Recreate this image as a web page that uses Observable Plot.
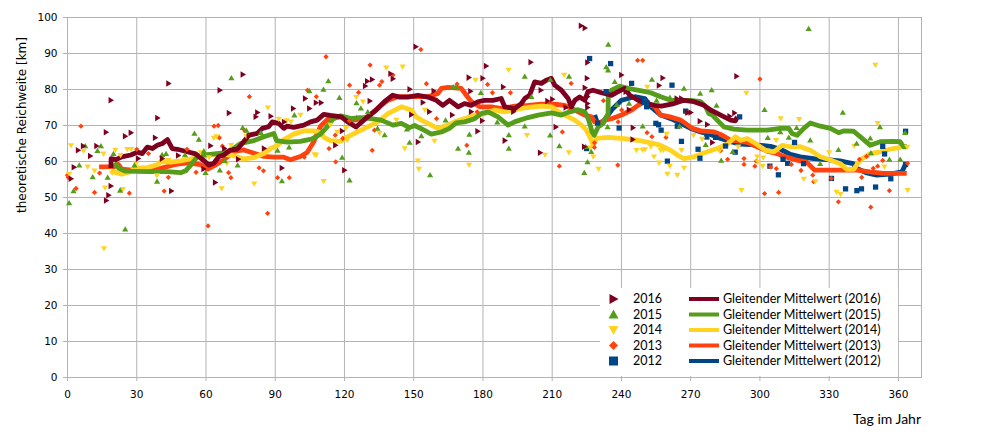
<!DOCTYPE html>
<html><head><meta charset="utf-8">
<script src="https://cdn.jsdelivr.net/npm/d3@7"></script>
<script src="https://cdn.jsdelivr.net/npm/@observablehq/plot@0.6"></script>
<style>
body{margin:0;background:#fff;}
#wrap{position:relative;width:997px;height:435px;overflow:hidden;}
#ytitle{position:absolute;left:22px;top:125px;transform:translate(-50%,-50%) rotate(-90deg);font:12px "DejaVu Sans";white-space:nowrap;color:#000;}
#xtitle{position:absolute;right:76px;top:412px;font:14px Lato;line-height:14px;color:#000;}
#legend{position:absolute;left:600px;top:288px;width:298px;height:88px;background:#fff;}
#legend .lab{position:absolute;font:12.5px Lato;line-height:14px;white-space:nowrap;color:#000;}
</style></head><body>
<div id="wrap"><div id="chart"></div><div id="ytitle">theoretische Reichweite [km]</div><div id="xtitle">Tag im Jahr</div><div id="legend"></div></div>
<script>
const years = ["2016","2015","2014","2013","2012"];
const colors = ["#7e0021","#579d1c","#ffd320","#ff420e","#004586"];
const xTicks = [0,30,60,90,120,150,180,210,240,270,300,330,360];
const yTicks = [0,10,20,30,40,50,60,70,80,90,100];

const pts2016 = [[1.5,55.2],[2.8,58.4],[4.6,63.1],[6.8,64.3],[9.9,61.5],[12.6,64.3],[16.7,68.1],[16.8,49.2],[17.8,50.6],[18.8,53.2],[18.8,77.0],[25,67],[27.5,68],[30.6,60.8],[38,66.6],[39,72.1],[41,60.8],[43.8,81.7],[45,51.8],[48,61.7],[59,57.9],[62,64.4],[64,54.2],[66,79.8],[68,63.6],[70,73.5],[74,60.6],[76,84.2],[78.6,67],[81.6,72.4],[82.3,73.6],[85.2,63.6],[88.1,72.6],[92.9,58.2],[93.9,71],[97.8,74.7],[103,77.5],[104.8,74.7],[107.7,76.3],[109.9,76.3],[116.1,64.5],[119,68.5],[120,57.6],[129,81.0],[129.9,82.3],[131,76.8],[132,82.8],[140,84.4],[141,83.0],[148.3,80.1],[149,73.0],[150.9,91.9],[151.9,65.4],[154,76.4],[156.8,73.8],[158.7,79.6],[166.7,72.9],[173.9,83.3],[174.6,79.5],[174.9,73.8],[177.7,68.4],[179.7,71.3],[179.9,83.1],[181.4,86.5],[188.8,80.7],[189.5,65.8],[193.2,73.8],[200.7,87.6],[204.8,62.4],[205.1,79.8],[208,76.8],[210.1,77.3],[211.6,69.6],[215.9,75.0],[222.5,97.7],[224.2,97.1],[223.9,64.1],[224.2,80.5],[225.1,83.1],[225.3,87.5],[225.3,78],[225.3,76.1],[225.3,75],[236.8,78.6],[240,84.0],[241.9,79.4],[243.3,74.4],[244.9,66.1],[245,69.4],[256.3,81.1],[257.9,83.2],[264,77.5],[266,77.5],[268.6,73.6],[270,73.6],[274,71.2],[277.2,70.3],[279.4,65.3],[286.9,72.6],[289,73.5],[289.9,83.7]];

const pts2015 = [[0.7,48.5],[2.6,51.8],[5.1,59.0],[7.7,64.3],[10.9,55.7],[13,63.0],[14.5,64.3],[17.4,55.6],[19.9,62.2],[22.8,52.0],[25,41.2],[29,59.0],[38.8,54.5],[41,61.9],[42.7,62.2],[50.9,61.8],[55,67.8],[56.9,66.1],[59.1,62.9],[59.8,56.9],[66,57.6],[68.1,60.2],[71,83.2],[73.7,59.0],[75.9,69.4],[77.5,68.6],[83.8,68],[91,63.1],[92.9,54.6],[96,64.0],[98.3,72.9],[104.8,79.6],[110.9,80],[113,82.4],[117.8,77.7],[119,61.1],[122.2,54.8],[125.2,76.3],[125.3,72.2],[127.1,74.8],[130.1,73.8],[134.3,69.2],[137.4,67.4],[147.1,69.0],[148.2,65.3],[153.3,67.1],[157.1,56.3],[163.8,71.5],[167.1,80.7],[168.4,80.8],[169.2,63.6],[173.9,62.5],[174.1,67.5],[179.1,79.1],[186.2,70.9],[191.2,63.6],[191.2,67.4],[198.1,83.6],[198.1,69.8],[201,78.0],[209.2,82.7],[209.1,67.3],[213.1,64.3],[217.3,83.6],[223.9,56.9],[224.5,64.1],[225.3,59.9],[226.9,62.7],[233.4,86.3],[234.2,85.4],[234.3,92.5],[234.0,69.6],[237.1,82.2],[238,75.8],[242.6,80.3],[243.3,76.1],[249.2,69.8],[253.2,82.8],[255.2,77.0],[261,77.8],[265.2,69.8],[267.1,80.3],[274.1,78.9],[276.5,64.7],[279.1,79.9],[281.2,75.6],[283.2,60.3],[288.2,62.7],[302,74.4],[303.4,66.6],[308.8,68.2],[312.5,66.7],[315.9,69.4],[321.1,96.9],[321.8,65.9],[326.1,59.4],[334,63.3],[335.9,73.6],[341.9,65.0],[347.8,66.5],[348.1,62.4],[352,69.6],[356.1,60.6],[360.8,60.6],[362.9,68.0]];

const pts2014 = [[0.7,56.5],[1.5,64.4],[7,62.9],[8.7,58.5],[11.7,57.4],[15.6,62.1],[15.8,35.8],[16.3,52.7],[20.7,63.2],[23,61.7],[23.9,52.3],[25.9,63.4],[27.6,63.4],[29.7,59.4],[38.7,56.1],[43.7,60.3],[57.7,62.5],[61.3,61.1],[63.4,66.5],[64.6,66.9],[66.8,52.5],[69,59.4],[70.9,64.5],[77.5,67.0],[80.9,53.8],[86.8,74.9],[91.5,71.8],[94.9,71.4],[96.8,71],[100.9,72.9],[107,61.9],[107.7,61.8],[111,54.5],[113.9,70.1],[116.9,68.2],[120.7,69.2],[121.2,65.9],[125.1,77.8],[128,76.6],[135.2,67.8],[138.1,86.0],[142.5,71.5],[145.2,86.3],[146.1,63.6],[151.8,60.2],[152.2,57.9],[154.9,74.3],[159,65.7],[174,59],[176.8,82.6],[191.1,85.4],[199.1,67.3],[206.9,61.8],[215.2,84],[217.2,62.5],[226.4,63.8],[227.8,61.3],[230.1,57.9],[246.5,63.1],[249.1,63.2],[250.2,63.3],[251.2,80.7],[252.7,64.1],[254.1,61.3],[256.3,59.6],[257,63.1],[258.2,63.1],[259.9,56.5],[259.6,67.6],[261,58.7],[264.2,56.2],[266,63.1],[267.1,58.2],[271.2,67.3],[275,66.2],[282.5,63.0],[290.6,64.1],[292,52.0],[294.1,79.0],[298.8,61.3],[299.1,59.9],[301.2,58.7],[301.4,61.0],[307,65.9],[309,71.9],[317,71.7],[319,55.1],[324,54.4],[330,62.5],[333.2,51.5],[334.9,50.9],[340.8,64.3],[350,86.8],[351,70.6],[353.9,58.5],[363.8,64.0],[364,52.0]];

const pts2013 = [[0,56.2],[0.3,55.6],[3.7,52.5],[5.8,69.8],[11.7,51.4],[13.9,56.8],[26.8,51.2],[30,63.4],[35.1,62.2],[41.9,51.8],[43.7,55.6],[51.8,63.4],[55.7,57.0],[60.9,42.1],[63.5,69.8],[65.3,70],[65.8,66.6],[67.1,64.3],[69.8,56.9],[70.8,55.5],[76.8,68.6],[78.8,78],[83,58.2],[84.9,57.4],[86.7,45.6],[91,55.5],[96.1,55.5],[102.6,61.2],[104,79.8],[107.8,78],[112,89.1],[113.3,63.6],[116.2,59.9],[116,67.3],[119.3,66.4],[122.2,81.2],[122.2,71.3],[126.1,79.2],[131.1,86.8],[132,63.1],[133,68.7],[135.2,81.2],[136.2,82.2],[141,84],[153.1,91.1],[155.5,81.6],[159.9,71.9],[168.8,81.5],[173,64.5],[177.5,73.8],[182,81.4],[184.1,79.1],[191.9,79.1],[213.1,58.7],[214.4,68.2],[218.2,81.7],[228.3,65.2],[228.3,63.9],[232.2,76.9],[238.4,59.0],[240.1,74.3],[238.6,71],[247,88.1],[249.2,88.1],[251.1,68],[253.2,66.9],[259.3,66.7],[268.4,73.5],[283,63],[286,60.6],[293.1,60.8],[293.1,59.2],[298.4,60.1],[297.8,58.7],[300,82.9],[302,51.1],[304.6,58.5],[307.1,58.0],[308.1,51.4],[313.6,59.2],[317.8,57.5],[322.9,56.2],[323.3,54.4],[330.9,55.3],[334,48.8],[343.1,60.6],[344.1,55.6],[346.2,61.4],[348,47.3],[349.1,58.1],[351,58.7],[353.2,60.3],[356.1,51.9],[364,59.5]];

const pts2012 = [[224.9,63.6],[226.2,88.6],[233.4,79.4],[229.7,70.7],[235.3,87.2],[239,69.3],[244.4,81.7],[249.8,76.4],[251,76.3],[250.9,75.2],[254.9,70.6],[256.1,70.2],[257.2,68.7],[259.9,60.1],[261.9,81.2],[264.2,69.8],[266,65.6],[267.8,74.0],[273.2,63.4],[274,60.9],[277,66.8],[280.8,66.7],[285.1,64.3],[289.3,62.6],[291.2,72.4],[304.3,58.7],[308,56.3],[310,60.6],[312,59.5],[315,65.3],[318.9,59.4],[331,55.3],[337.1,52.4],[342,51.9],[344,52.4],[350.1,52.9],[353.2,64.2],[354,62.1],[356.7,55.2],[363.1,68.4],[363.1,59.2]];

const ma2016 = [[18.8,58.2],[18.9,60.8],[21,60.5],[23.5,61.3],[27.4,61.8],[30.3,62.6],[32.4,62.2],[34.6,64.0],[36.8,63.6],[38.9,64.5],[41.1,65.0],[43.3,66.1],[45.4,63.6],[47.6,63.4],[51.9,62.7],[55.5,62.1],[58.4,60.6],[61.3,59.0],[63.4,59.5],[65.6,61.4],[67.7,61.8],[70.6,63.2],[73.5,63.4],[75.7,65.0],[78.6,67.3],[82.2,67.8],[84.4,69.2],[87.2,69.7],[88.7,71.0],[91.5,70.6],[93.7,69.2],[95.1,69.8],[98,69.5],[102.4,70.1],[105.3,71.0],[108.2,71.5],[111,73.1],[113.9,72.8],[118.6,72.4],[121.4,71.0],[125,69.6],[130,72.4],[133.7,74.3],[137.3,76.6],[140.9,78.4],[143.9,77.9],[147.5,77.9],[151.8,78.4],[156.1,77.9],[159.8,77.0],[162.6,75.6],[165.5,77.0],[169.2,75.2],[172,76.1],[174.9,75.6],[177.8,76.6],[180.7,77.0],[184.3,77.0],[187.9,77.5],[189.4,75.2],[193.8,74.7],[196.6,76.1],[198.1,77.5],[200.2,78.4],[202.4,82.1],[205.3,81.7],[207.5,82.6],[209.6,83.1],[211.1,81.2],[214,79.8],[216.9,77.5],[218.3,75.2],[219.8,77.0],[221.9,77.9],[224.1,77.0],[225.5,79.4],[227.7,79.8],[231.3,79.1],[235.7,78.4],[238.6,79.4],[241.4,80.3],[243.6,78.4],[247.2,77.0],[250.8,76.1],[254.5,75.6],[257.3,75.4],[262.8,76.1],[267.1,77.0],[271.4,76.6],[275.8,75.6],[278.6,74.3],[283,72.9],[287.3,71.5],[289.4,71.3],[290.2,72.4]];

const ma2015 = [[20.2,59.6],[22.3,58.1],[25.2,57.3],[36,57.2],[43.3,57.2],[49,56.9],[51.2,57.4],[53.4,59.0],[56.3,61.4],[60.7,61.9],[66.5,62.3],[70.6,63.0],[75,65.0],[80.8,65.8],[85.1,66.9],[89.4,67.8],[90.6,65.8],[95.2,65.4],[100.9,65.6],[106,66.3],[109.6,67.6],[112.5,69.6],[115,71.8],[118.4,72.7],[122.9,71.9],[126.5,72.2],[131.6,71.9],[135.9,71.5],[141,70.1],[144.6,70.6],[148.2,69.4],[150.4,70.0],[154.5,68.7],[157.6,67.6],[162,68.2],[165.5,69.2],[168.4,70.7],[172.1,71],[176.4,71.9],[179.3,73.3],[182.2,73.8],[186.5,72.4],[190.9,70.1],[193.7,71],[199.5,72.2],[203.9,72.9],[209.7,73.5],[214,72.9],[217.6,73.8],[221.2,74.4],[224.1,73.8],[225.6,71.9],[227.3,68.2],[228.2,67.3],[229.9,69.6],[232.1,70.6],[234.2,73.3],[234.3,78.4],[235.7,79.8],[239.3,80.9],[242.9,80.3],[248.7,79.6],[252.7,79.1],[257,78],[261.4,77],[270,77],[274.3,76.6],[276.5,75.2],[277.9,73.3],[279.4,72.9],[281.5,71.5],[284.4,69.6],[288.7,69],[294.5,68.7],[303.1,68.7],[308.9,69.2],[312.5,69.2],[313.9,67.8],[316.1,67.3],[319,69.2],[321.8,70.7],[326.2,69.8],[330.5,69.2],[334.1,68],[336.2,68.5],[340.6,68.4],[343.4,66.9],[347.8,64.5],[352.1,65.5],[357.8,65.6],[360.7,65.5],[362.2,64.1],[363.6,64.1]];

const ma2014 = [[18.7,56.6],[19.7,57.2],[23.5,56.5],[26.5,57],[29.8,58.2],[34.6,58.3],[38.9,59.1],[40.4,60],[44.8,59.8],[49,60.2],[54.8,60.9],[59.2,61.8],[63.4,62],[67.8,62],[72.1,61.6],[76.4,60.7],[80.8,61.1],[85.1,62.2],[88,63.6],[90.9,64.4],[93.7,66.1],[98,67.6],[102.4,68.5],[106.7,68.5],[109.6,68.1],[111.1,66.7],[113.9,65.8],[118.3,65.6],[120,66.4],[124.3,67.8],[128.7,69.2],[134.5,71],[138.8,73.3],[144.6,75.2],[149,74.3],[151.1,72.4],[153.3,71.5],[157.6,70.1],[160.5,69.2],[164.8,70.1],[167.7,71],[172.1,71.9],[176.4,72.9],[180.7,73.3],[185.1,74.3],[189.4,73.8],[193.7,74.4],[199.5,75],[205.3,75.4],[209.7,75.2],[214,73.3],[217,72.4],[219.8,71.5],[222.7,70.1],[224.8,68.7],[227,65.9],[227.7,64.5],[229.2,66.4],[234.2,66.7],[240,66.4],[247.2,65.9],[252.7,65.2],[257,64.5],[261.4,63.1],[264.2,61.8],[267.1,60.8],[271.4,61.3],[277.2,62.7],[281.5,63.6],[285.8,64.8],[289.4,66.9],[291.6,65.9],[294.5,66.4],[298.1,65],[302.4,63.1],[306,62.7],[309.6,64.5],[313.2,64.1],[317.5,64.1],[321.8,63.1],[326.2,61.3],[330.5,60.4],[334.8,59.4],[337.7,57.8],[340.6,57.8],[343.4,60.4],[347.8,62.2],[352.1,62.7],[357.8,63.6],[363.6,64.3]];

const ma2013 = [[13.7,58.5],[20.2,58.6],[22,59.2],[23.5,57.9],[29,57.5],[34.6,57.3],[40.4,58.1],[46.2,59.1],[51.9,59.6],[57.7,59.1],[60.7,57.9],[63.4,58.8],[67.8,60.5],[72.1,62.8],[76.4,63.2],[80.8,62.3],[85.1,61.4],[89.4,61.2],[93.7,61.2],[96.6,60.5],[100.9,61.4],[103.8,62.5],[106.7,65.5],[109.6,69.8],[113.2,72],[118.5,72.4],[124.3,71.5],[130.1,72.4],[135.9,75.6],[138.8,77],[143.1,78],[148.9,78],[156.1,78],[160.5,78.9],[162,80.3],[164.8,80.6],[170.6,80.3],[172.8,78.4],[175,76.6],[178.6,75.2],[183.6,75.2],[188,74.7],[193.7,75.4],[199.5,75.6],[205.3,75.9],[211.1,75.9],[215.4,75.6],[219.8,74.3],[224.1,72.9],[227,72.4],[228.4,71],[229.9,70.6],[232.8,71.5],[235.7,71.9],[240,72.9],[244.4,74.3],[247.2,75.6],[250.1,76.6],[254.5,75.2],[257,72.9],[261,72.4],[265.7,71.5],[270.7,69.2],[274.3,68.5],[280.1,68.2],[283.7,67.3],[287.3,65.9],[290.2,65.7],[294.5,65.3],[298.8,64.1],[303.1,62.9],[307.4,62.2],[310,61.5],[315.8,60.4],[320.1,59.9],[322.3,58.5],[323.8,57.6],[329.6,57.6],[336.1,57.6],[341.9,57.6],[347.7,57.1],[353.5,56.7],[363.6,56.7]];

const ma2012 = [[228.4,72.9],[229.9,70.1],[232,71],[236,74.5],[240,77],[245.8,78],[250.1,77.5],[252.7,75.2],[257,72.9],[261.4,71.9],[265.7,70.6],[270,69.2],[274.3,68.2],[278.6,67.5],[283,66.4],[287.3,65.5],[291.6,64.8],[295.9,64.7],[300.2,64.5],[304.6,64.2],[308.9,63.4],[313.2,62],[317.5,61.3],[323.3,60.8],[329,60.5],[334.6,60.2],[340.4,59.4],[342,58.1],[346.3,56.8],[350.6,56.2],[356.4,56.5],[361.5,57.1],[362.9,59]];

const pointSets = [pts2016, pts2015, pts2014, pts2013, pts2012];
const lineSets = [ma2016, ma2015, ma2014, ma2013, ma2012];

function mk(fn){return {draw(ctx,size){const r=Math.sqrt(size/Math.PI);fn(ctx,r);ctx.closePath();}};}
const symRight = mk((c,r)=>{c.moveTo(1.0*r,0);c.lineTo(-0.75*r,-1.05*r);c.lineTo(-0.75*r,1.05*r);});
const symUp = mk((c,r)=>{c.moveTo(0,-0.95*r);c.lineTo(r,0.75*r);c.lineTo(-r,0.75*r);});
const symDown = mk((c,r)=>{c.moveTo(0,0.95*r);c.lineTo(r,-0.75*r);c.lineTo(-r,-0.75*r);});
const symDiamond = mk((c,r)=>{c.moveTo(0,-0.85*r);c.lineTo(0.85*r,0);c.lineTo(0,0.85*r);c.lineTo(-0.85*r,0);});
const symSquare = mk((c,r)=>{const h=0.85*r;c.moveTo(-h,-h);c.lineTo(h,-h);c.lineTo(h,h);c.lineTo(-h,h);});
const symbols = [symRight, symUp, symDown, symDiamond, symSquare];

const dotMarks = [];
for (let i = pointSets.length - 1; i >= 0; i--) {
  dotMarks.push(Plot.dot(pointSets[i], {x: d => d[0], y: d => d[1], symbol: symbols[i], fill: colors[i], stroke: "none", r: 3.1}));
}
const lineMarks = [];
for (let i = lineSets.length - 1; i >= 0; i--) {
  lineMarks.push(Plot.line(lineSets[i], {x: d => d[0], y: d => d[1], stroke: colors[i], strokeWidth: 4.8, strokeLinejoin: "round", strokeLinecap: "butt"}));
}

const chart = Plot.plot({
  width: 997, height: 435,
  marginLeft: 67, marginRight: 76, marginTop: 17, marginBottom: 58,
  style: {fontFamily: "DejaVu Sans", fontSize: "10.5px", color: "#000", background: "#fff"},
  x: {domain: [0, 370], label: null},
  y: {domain: [0, 100], label: null},
  marks: [
    Plot.gridX(xTicks, {stroke: "#b3b3b3", strokeOpacity: 1}),
    Plot.gridY(yTicks, {stroke: "#b3b3b3", strokeOpacity: 1}),
    Plot.frame({stroke: "#b3b3b3"}),
    Plot.axisX(xTicks, {tickSize: 4, tickPadding: 9, stroke: "#b3b3b3", fill: "#000", label: null}),
    Plot.axisY(yTicks, {tickSize: 4, tickPadding: 6, stroke: "#b3b3b3", fill: "#000", label: null}),
    ...lineMarks,
    ...dotMarks
  ]
});
document.getElementById("chart").appendChild(chart);

// legend
const lg = document.getElementById("legend");
const ns = "http://www.w3.org/2000/svg";
const svg = document.createElementNS(ns, "svg");
svg.setAttribute("width", 298); svg.setAttribute("height", 88);
svg.style.position = "absolute"; svg.style.left = "0"; svg.style.top = "0";
lg.appendChild(svg);
const legPaths = [
  "M-4,-5 L5,0 L-4,5 Z",
  "M0,-5 L5,4 L-5,4 Z",
  "M0,5 L5,-4 L-5,-4 Z",
  "M0,-4.5 L4.5,0 L0,4.5 L-4.5,0 Z",
  "M-4.5,-4.5 L4.5,-4.5 L4.5,4.5 L-4.5,4.5 Z"
];
years.forEach((yr, i) => {
  const cy = 11 + i * 15.5;
  const p = document.createElementNS(ns, "path");
  p.setAttribute("d", legPaths[i]);
  p.setAttribute("transform", `translate(13.5,${cy})`);
  p.setAttribute("fill", colors[i]);
  svg.appendChild(p);
  const l = document.createElementNS(ns, "line");
  l.setAttribute("x1", 89); l.setAttribute("x2", 119);
  l.setAttribute("y1", cy); l.setAttribute("y2", cy);
  l.setAttribute("stroke", colors[i]); l.setAttribute("stroke-width", 4);
  svg.appendChild(l);
  const t1 = document.createElement("div");
  t1.className = "lab"; t1.textContent = yr;
  t1.style.left = "33px"; t1.style.top = (cy - 7) + "px";
  lg.appendChild(t1);
  const t2 = document.createElement("div");
  t2.className = "lab"; t2.textContent = `Gleitender Mittelwert (${yr})`;
  t2.style.left = "123px"; t2.style.top = (cy - 7) + "px";
  lg.appendChild(t2);
});
</script>
</body></html>
